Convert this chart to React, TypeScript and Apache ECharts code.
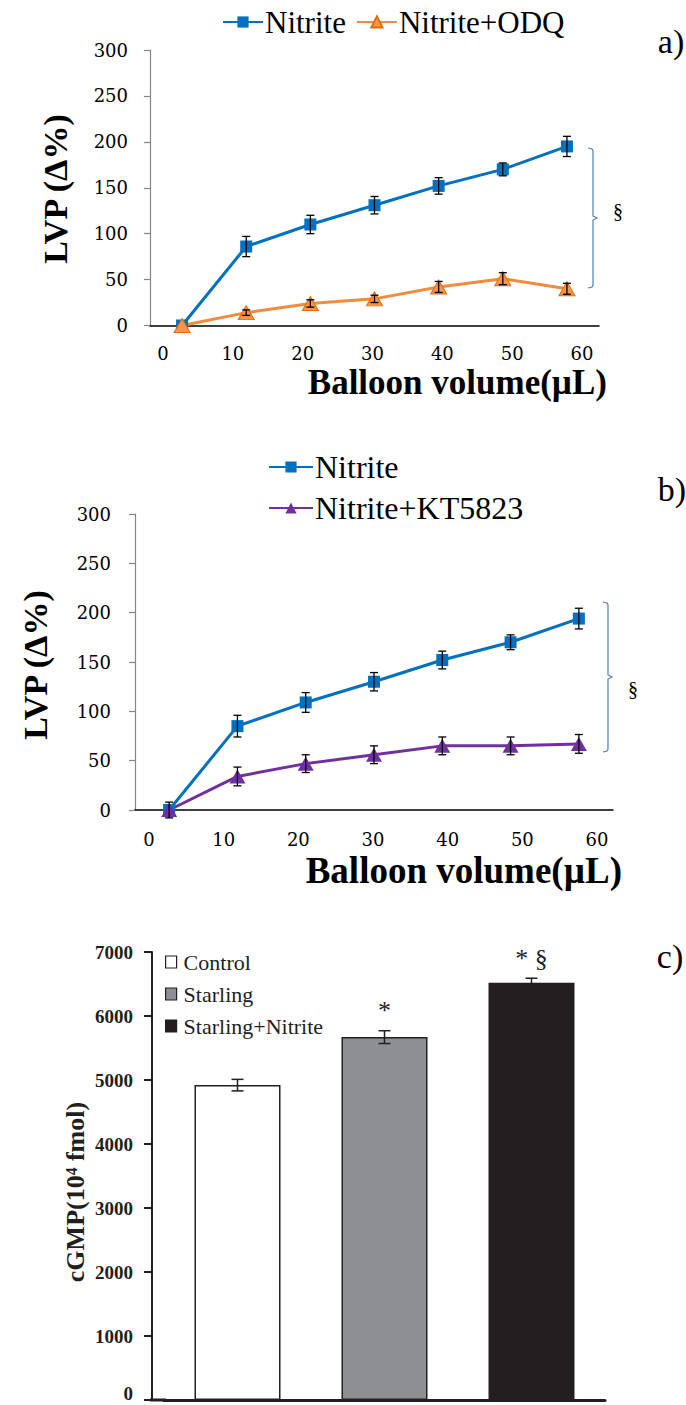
import React, { useEffect, useRef } from "react";
import * as echarts from "echarts";

// ---------- data ----------
const volumes = ["0", "10", "20", "30", "40", "50", "60"];
const volumeTickLabels = ["0", "10", "20", "30", "40", "50", "60"];
const lvpTicks = { min: 0, max: 300, interval: 50 };

const nitriteA = [0, 86, 110, 131, 152, 170, 195];
const nitriteAErr = [0, 11, 10, 9.5, 9, 7, 11];
const odqA = [0, 14, 24, 29, 42, 51, 40];
const odqAErr = [0, 3, 4, 4, 6, 6.5, 6];

const nitriteB = [0, 85, 109, 130, 152, 170, 194];
const nitriteBErr = [0, 11, 10, 9.3, 9, 7.5, 10.5];
const ktB = [0, 34, 47, 56, 65, 65, 67];
const ktBErr = [8, 9.5, 9, 9, 9, 9, 9.5];

const groups = ["Control", "Starling", "Starling+Nitrite"];
const cgmp = [4920, 5670, 6520];
const cgmpErr = [90, 100, 70];
const cgmpMarks = ["", "*", "* §"];
const cgmpTicks = { min: 0, max: 7000, interval: 1000 };

// ---------- styles ----------
const SERIF = "'Liberation Serif', 'Times New Roman', serif";
const NUM = "'DejaVu Serif', serif";
const BLUE = "#0070c0";
const ORANGE = "#f58a3c";
const PURPLE = "#7030a0";
const BAR_FILLS = ["#ffffff", "#8e8f92", "#231f20"];
const DARK = "#231f20";

function errorSeries(
  name: string,
  axisIndex: number,
  values: number[],
  errs: number[],
  capHalf: number,
  color: string,
  lw: number
) {
  return {
    type: "custom",
    name,
    xAxisIndex: axisIndex,
    yAxisIndex: axisIndex,
    z: 10,
    silent: true,
    encode: { x: 0, y: [1, 2] },
    data: values.map((v, i) => [i, v - errs[i], v + errs[i]]),
    renderItem: (params: any, api: any) => {
      const x = api.value(0);
      const lo = api.coord([x, api.value(1)]);
      const hi = api.coord([x, api.value(2)]);
      if (Math.abs(hi[1] - lo[1]) < 1) return null;
      const style = { stroke: color, lineWidth: lw };
      return {
        type: "group",
        children: [
          { type: "line", shape: { x1: lo[0], y1: lo[1], x2: hi[0], y2: hi[1] }, style },
          { type: "line", shape: { x1: hi[0] - capHalf, y1: hi[1], x2: hi[0] + capHalf, y2: hi[1] }, style },
          { type: "line", shape: { x1: lo[0] - capHalf, y1: lo[1], x2: lo[0] + capHalf, y2: lo[1] }, style },
        ],
      };
    },
  };
}

function lineSeries(name: string, axisIndex: number, data: number[], color: string, tri: boolean) {
  return {
    type: "line",
    name,
    xAxisIndex: axisIndex,
    yAxisIndex: axisIndex,
    data,
    z: 3,
    symbol: tri ? "triangle" : "rect",
    symbolSize: tri ? [16, 14] : 12,
    lineStyle: { color, width: 3 },
    itemStyle: tri && color === ORANGE ? { color: "#f79646", borderColor: "#e46c0a", borderWidth: 1 } : { color },
  };
}

const lvpYAxis = (gridIndex: number, margin: number) => ({
  type: "value",
  gridIndex,
  min: lvpTicks.min,
  max: lvpTicks.max,
  interval: lvpTicks.interval,
  splitLine: { show: false },
  axisLine: { show: true, lineStyle: { color: "#868686", width: 1.2 } },
  axisTick: { show: true, length: 6, lineStyle: { color: "#868686", width: 1.2 } },
  axisLabel: { fontFamily: NUM, fontSize: 18, color: "#000", margin },
});

const catXAxis = (gridIndex: number) => ({
  type: "category",
  gridIndex,
  data: volumes,
  boundaryGap: true,
  axisLine: { show: true, lineStyle: { color: "#000", width: 1.5 } },
  axisTick: { show: false },
  axisLabel: { show: false },
});

const labelXAxis = (gridIndex: number, margin: number) => ({
  type: "category",
  gridIndex,
  data: volumeTickLabels,
  boundaryGap: false,
  axisLine: { show: false },
  axisTick: { show: false },
  axisLabel: { fontFamily: NUM, fontSize: 18, color: "#000", margin, interval: 0 },
});

const hiddenY = (gridIndex: number) => ({ type: "value", gridIndex, show: false, min: 0, max: 1 });

export default function App() {
  const ref = useRef<HTMLDivElement>(null);

  useEffect(() => {
    document.body.style.margin = "0";
    const chart = echarts.init(ref.current!, null, { renderer: "svg" });

    const text = (t: string, x: number, y: number, size: number, opts: any = {}) => ({
      type: "text",
      x,
      y,
      z: 20,
      rotation: opts.rotation || 0,
      style: {
        text: t,
        fontFamily: opts.family || SERIF,
        fontSize: size,
        fontWeight: opts.weight || "normal",
        fill: opts.fill || "#000",
        align: opts.align || "center",
        verticalAlign: "middle",
      },
    });

    const bracket = (x: number, y1: number, y2: number) => {
      const m = (y1 + y2) / 2;
      return {
        type: "polyline",
        shape: {
          points: [
            [x - 5, y1],
            [x - 1, y1 + 1],
            [x, y1 + 3],
            [x, m - 2],
            [x + 4, m],
            [x, m + 2],
            [x, y2 - 3],
            [x - 1, y2 - 1],
            [x - 5, y2],
          ],
        },
        style: { stroke: "#4f81bd", lineWidth: 1.2, fill: null },
      };
    };

    const g = (left: number, top: number, width: number, height: number) => ({
      left,
      top,
      width,
      height,
      outerBoundsMode: "none",
      containLabel: false,
    });

    const option: any = {
      animation: false,
      backgroundColor: "#ffffff",
      grid: [
        g(150, 50, 449, 275.5),
        g(163, 50, 419, 275.5),
        g(135, 514, 478, 296),
        g(149, 514, 448, 296),
        g(164, 952, 441, 448),
      ],
      xAxis: [
        catXAxis(0),
        labelXAxis(1, 19),
        catXAxis(2),
        labelXAxis(3, 20),
        {
          type: "category",
          gridIndex: 4,
          data: groups,
          z: 5,
          axisLine: { show: true, lineStyle: { color: DARK, width: 3 } },
          axisTick: { show: false },
          axisLabel: { show: false },
        },
      ],
      yAxis: [
        lvpYAxis(0, 22),
        hiddenY(1),
        lvpYAxis(2, 24),
        hiddenY(3),
        {
          type: "value",
          gridIndex: 4,
          min: cgmpTicks.min,
          max: cgmpTicks.max,
          interval: cgmpTicks.interval,
          offset: 12,
          splitLine: { show: false },
          axisLine: { show: true, lineStyle: { color: DARK, width: 2 } },
          axisTick: { show: true, length: 8, lineStyle: { color: DARK, width: 2 } },
          axisLabel: {
            fontFamily: SERIF,
            fontWeight: "bold",
            fontSize: 19,
            color: DARK,
            margin: 19,
            formatter: (v: number) => (v === cgmpTicks.min ? "{z|" + v + "}" : String(v)),
            rich: {
              z: {
                fontFamily: SERIF,
                fontWeight: "bold",
                fontSize: 19,
                color: DARK,
                padding: [0, 0, 14, 0],
              },
            },
          },
        },
      ],
      legend: [
        {
          data: ["Nitrite", "Nitrite+ODQ"],
          left: 222,
          top: 5,
          padding: 0,
          itemWidth: 40,
          itemHeight: 14,
          itemGap: 10,
          textStyle: { fontFamily: SERIF, fontSize: 31, color: "#000", lineHeight: 34, padding: [0, 0, 0, -3] },
        },
        {
          orient: "vertical",
          data: ["Nitrite", "Nitrite+KT5823"],
          left: 268,
          top: 450,
          padding: 0,
          itemWidth: 44,
          itemHeight: 14,
          itemGap: 7,
          textStyle: { fontFamily: SERIF, fontSize: 32, color: "#000", lineHeight: 34, padding: [0, 0, 0, -3] },
        },
        {
          orient: "vertical",
          data: groups.map((name, i) => ({
            name,
            icon: "rect",
            itemStyle: { color: BAR_FILLS[i], borderColor: DARK, borderWidth: 1.2 },
          })),
          left: 165,
          top: 951,
          padding: 0,
          itemWidth: 11,
          itemHeight: 12,
          itemGap: 10,
          textStyle: { fontFamily: SERIF, fontSize: 22, color: DARK, lineHeight: 22, padding: [0, 0, 0, 2] },
        },
      ],
      series: [
        lineSeries("Nitrite", 0, nitriteA, BLUE, false),
        lineSeries("Nitrite+ODQ", 0, odqA, ORANGE, true),
        errorSeries("errA1", 0, nitriteA, nitriteAErr, 4, "#000", 1.3),
        errorSeries("errA2", 0, odqA, odqAErr, 4, "#000", 1.3),
        lineSeries("Nitrite", 2, nitriteB, BLUE, false),
        lineSeries("Nitrite+KT5823", 2, ktB, PURPLE, true),
        errorSeries("errB1", 2, nitriteB, nitriteBErr, 4, "#000", 1.3),
        errorSeries("errB2", 2, ktB, ktBErr, 4, "#000", 1.3),
        ...groups.map((name, gi) => ({
          type: "bar",
          name,
          xAxisIndex: 4,
          yAxisIndex: 4,
          stack: "cgmp",
          barWidth: 86,
          itemStyle: { color: BAR_FILLS[gi], borderColor: DARK, borderWidth: 1.5 },
          data: groups.map((_, j) =>
            j === gi
              ? {
                  value: cgmp[gi],
                  label: {
                    show: cgmpMarks[gi] !== "",
                    position: "top",
                    distance: gi === 1 ? 14 : 11,
                    formatter: cgmpMarks[gi],
                    fontFamily: SERIF,
                    fontSize: 26,
                    color: DARK,
                  },
                }
              : "-"
          ),
        })),
        errorSeries("errC", 4, cgmp, cgmpErr, 6, DARK, 1.5),
      ],
      graphic: [
        text("a)", 671, 41, 34),
        text("b)", 672, 489, 34),
        text("c)", 670, 956, 34),
        text("LVP (Δ%)", 55, 189, 34, { weight: "bold", rotation: Math.PI / 2 }),
        text("LVP (Δ%)", 35, 665, 34, { weight: "bold", rotation: Math.PI / 2 }),
        text("Balloon volume(µL)", 607, 382, 35, { weight: "bold", align: "right" }),
        text("Balloon volume(µL)", 622, 870, 37, { weight: "bold", align: "right" }),
        text("cGMP(10⁴ fmol)", 75, 1192, 26, { weight: "bold", rotation: Math.PI / 2, fill: DARK }),
        bracket(593, 148, 288),
        bracket(608, 602, 752),
        text("§", 618, 211, 20),
        text("§", 633, 689, 20),
        { type: "line", z: 20, shape: { x1: 150, y1: 1400, x2: 166, y2: 1400 }, style: { stroke: DARK, lineWidth: 3 } },
      ],
    };

    chart.setOption(option);
    return () => chart.dispose();
  }, []);

  return (
    <div
      ref={ref}
      style={{ position: "absolute", left: 0, top: 0, width: 686, height: 1405, background: "#fff" }}
    />
  );
}
